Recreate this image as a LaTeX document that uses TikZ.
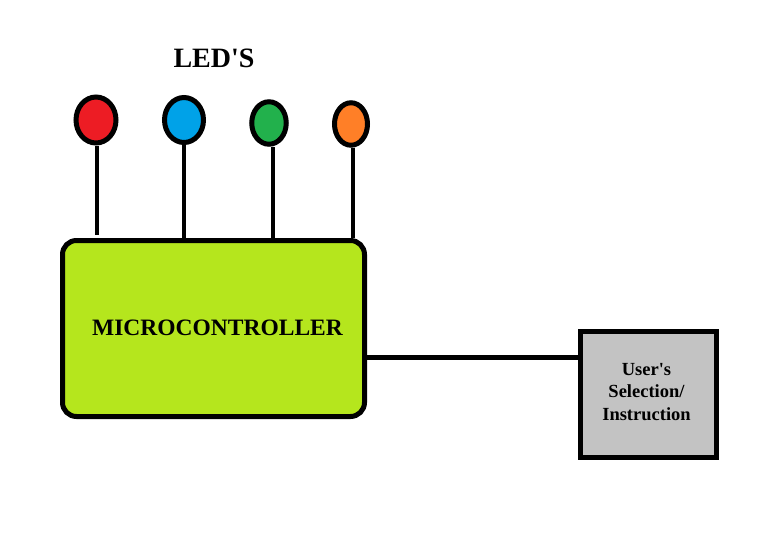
\documentclass[tikz,border=0pt]{standalone}
\usepackage{fontspec}
\setmainfont{Liberation Serif}
\usetikzlibrary{shapes.geometric}
\definecolor{ledred}{HTML}{ED1C24}
\definecolor{ledblue}{HTML}{00A2E8}
\definecolor{ledgreen}{HTML}{22B14C}
\definecolor{ledorange}{HTML}{FF7F27}
\definecolor{mcugreen}{HTML}{B5E61D}
\definecolor{usergray}{HTML}{C3C3C3}
\tikzset{
  led/.style={ellipse, draw=black, line width=5pt, inner sep=0pt},
  stem/.style={line width=4.5pt, draw=black},
  wire/.style={line width=5pt, draw=black},
  block/.style={draw=black, line width=5pt, inner sep=0pt},
}
\begin{document}
\begin{tikzpicture}[x=1pt,y=-1pt]
\useasboundingbox (0,0) rectangle (772,549);
% microcontroller
\node[block, fill=mcugreen, rounded corners=14pt, minimum width=302pt, minimum height=176pt] (mcu) at (213.5,328.5) {};
\node[anchor=base, font=\bfseries\fontsize{23.5}{28}\selectfont] (mculabel) at (217.5,335) {MICROCONTROLLER};
% user box
\node[block, fill=usergray, minimum width=136pt, minimum height=126pt] (user) at (648.5,394.5) {};
\node[align=center, font=\bfseries\fontsize{18.5}{22.5}\selectfont, inner sep=0pt] (userlabel) at (646.5,392) {User\textquotesingle s\\Selection/\\Instruction};
% title
\node[anchor=base, font=\bfseries\fontsize{28}{32}\selectfont] (title) at (214,67) {LED\textquotesingle S};
% LEDs
\node[led, fill=ledred, minimum width=40pt, minimum height=46pt] (l1) at (96,120) {};
\node[led, fill=ledblue, minimum width=39pt, minimum height=45pt] (l2) at (184,120) {};
\node[led, fill=ledgreen, minimum width=34.5pt, minimum height=42.5pt] (l3) at (269,123) {};
\node[led, fill=ledorange, minimum width=33pt, minimum height=42.5pt] (l4) at (351,124) {};
% stems
\coordinate (s1) at (97,235);
\draw[stem] (l1.south) ++(1,0) coordinate (a1) -- (s1);
\draw[stem] (l2.south) -- (l2.south |- mcu.north);
\draw[stem] (l3.south) ++(4,0) coordinate (a3) -- (a3 |- mcu.north);
\draw[stem] (l4.south) ++(2,0) coordinate (a4) -- (a4 |- mcu.north);
% wire
\draw[wire] (mcu.east |- 0,357) -- (user.west |- 0,357);
\end{tikzpicture}
\end{document}
